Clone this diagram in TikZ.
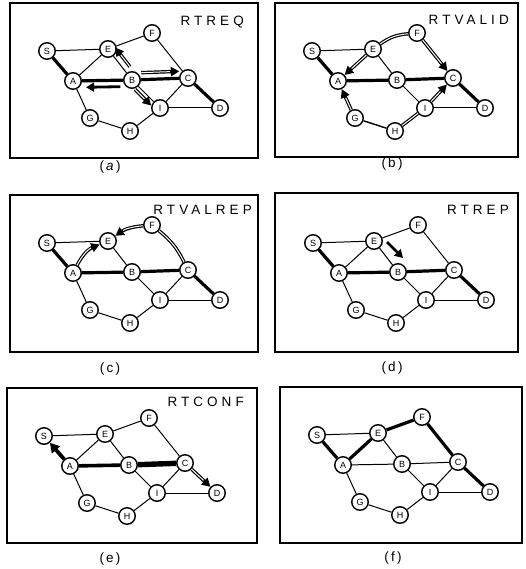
\documentclass[tikz,border=0pt]{standalone}
\usepackage{fontspec}
\setmainfont{Liberation Sans}
\newfontfamily\ttlfont[LetterSpace=30]{Liberation Sans}
\usetikzlibrary{arrows.meta,calc}
\tikzset{
  nd/.style={circle,draw,fill=white,line width=1.4pt,minimum size=16.5pt,inner sep=0pt,font=\fontsize{9}{9}\selectfont},
  edge/.style={line width=1pt},
  route/.style={line width=3.2pt},
  frm/.style={line width=1.9pt},
  ttl/.style={anchor=east,inner sep=0pt,font=\fontsize{13.5}{13.5}\selectfont\ttlfont},
  captxt/.style={inner sep=0pt,font=\fontsize{13.5}{13.5}\selectfont},
  msg/.style={line width=3.4pt,-{Triangle[length=8.5pt,width=9pt]},postaction={draw=white,line width=1pt,-,shorten >=9.5pt}},
  dbl/.style={line width=3.4pt,postaction={draw=white,line width=1pt}},
  solidarr/.style={line width=2.8pt,-{Triangle[length=8pt,width=9pt]}},
}
\newcommand\netnodes[3]{%
  \begin{scope}[shift={(#2,#3)}]
    \node[nd] (#1S) at (37,48) {S};
    \node[nd] (#1E) at (98,46) {E};
    \node[nd] (#1F) at (142,30) {F};
    \node[nd] (#1A) at (63,78) {A};
    \node[nd] (#1B) at (122,77) {B};
    \node[nd] (#1C) at (178,75) {C};
    \node[nd] (#1I) at (150,105) {I};
    \node[nd] (#1D) at (210,105) {D};
    \node[nd] (#1G) at (80,115) {G};
    \node[nd] (#1H) at (120,128) {H};
  \end{scope}}
\newcommand\netedges[3]{%
  \foreach \u/\v in {#3} \draw[#2] (#1\u) -- (#1\v);}
\begin{document}
\begin{tikzpicture}[x=1pt,y=-1pt]
\useasboundingbox (0,0) rectangle (526,569);
% ---------- (a)
\draw[frm] (10,3) rectangle (258,158);
\node[ttl] (ta) at (244,22) {RTREQ};
\netnodes{a}{10}{3}
\netedges{a}{edge}{S/E,E/F,E/A,E/B,F/C,A/G,G/H,H/I,I/B,I/C,I/D}
\netedges{a}{route}{S/A,A/B,B/C,C/D}
\draw[msg] ($(aB)!0.3!(aE)!6.5pt!-90:(aE)$) -- ($(aB)!0.92!(aE)!6.5pt!-90:(aE)$);
\draw[msg] ($(aB)!0.17!(aC)!7pt!90:(aC)$) -- ($(aB)!0.85!(aC)!7pt!90:(aC)$);
\draw[solidarr] ($(aB)!0.2!(aA)!6.5pt!90:(aA)$) -- ($(aB)!0.78!(aA)!6.5pt!90:(aA)$);
\draw[msg] ($(aB)!0.22!(aI)!4.5pt!-90:(aI)$) -- ($(aB)!0.8!(aI)!4.5pt!-90:(aI)$);
\node[captxt] (la) at (110,167) {(\,\textit{a}\,)};
% ---------- (b)
\draw[frm] (275,3) rectangle (518,157);
\node[ttl] (tb) at (509,20) {RTVALID};
\netnodes{b}{275}{3}
\netedges{b}{edge}{S/E,E/B,B/I,I/D}
\draw[line width=1.4pt] (bG) -- (bH);
\netedges{b}{route}{S/A,A/B,B/C,C/D}
\draw[msg] (bE) -- (bA);
\draw[dbl] (bE) to[bend left=15] (bF);
\draw[msg] (bF) -- (bC);
\draw[msg] (bG) -- (bA);
\draw[dbl] (bH) -- (bI);
\draw[msg] (bI) -- (bC);
\node[captxt] (lb) at (392,164) {(\,b\,)};
% ---------- (c)
\draw[frm] (10,195) rectangle (258,352);
\node[ttl] (tc) at (252,210) {RTVALREP};
\netnodes{c}{10}{195}
\netedges{c}{edge}{S/E,E/B,A/G,G/H,H/I,I/B,I/C,I/D}
\netedges{c}{route}{S/A,A/B,B/C,C/D}
\draw[msg] (cA) to[bend left=20] (cE);
\draw[dbl] (cC) to[bend right=12] (cF);
\draw[msg] (cF) to[bend right=15] (cE);
\node[captxt] (lc) at (110,369) {(\,c\,)};
% ---------- (d)
\draw[frm] (275,193) rectangle (518,352);
\node[ttl] (td) at (509,210) {RTREP};
\netnodes{d}{276}{195}
\netedges{d}{edge}{S/E,E/F,E/A,E/B,F/C,A/G,G/H,H/I,I/B,I/C,I/D}
\netedges{d}{route}{S/A,A/B,B/C,C/D}
\draw[solidarr] ($(dE)+(13,1)$) -- ($(dB)+(5,-14)$);
\node[captxt] (ld) at (392,368) {(\,d\,)};
% ---------- (e)
\draw[frm] (7,388) rectangle (257,543);
\node[ttl] (te) at (244,402) {RTCONF};
\netnodes{e}{7}{388}
\netedges{e}{edge}{S/E,E/F,E/A,E/B,F/C,A/G,G/H,H/I,I/B,I/C,I/D}
\draw[line width=3.6pt] (eA) -- (eB);
\draw[line width=5.4pt] (eB) -- (eC);
\draw[solidarr,line width=3.8pt,-{Triangle[length=9.5pt,width=10.5pt]}] (eA) -- (eS);
\draw[msg] (eC) -- (eD);
\node[captxt] (le) at (110,559) {(\,e\,)};
% ---------- (f)
\draw[frm] (280,387) rectangle (522,543);
\netnodes{f}{280}{387}
\netedges{f}{edge}{S/E,A/B,B/C,E/B,A/G,G/H,H/I,I/B,I/C,I/D}
\netedges{f}{route}{S/A,A/E,E/F,F/C,C/D}
\node[captxt] (lf) at (393,558) {(\,f\,)};
\end{tikzpicture}
\end{document}
